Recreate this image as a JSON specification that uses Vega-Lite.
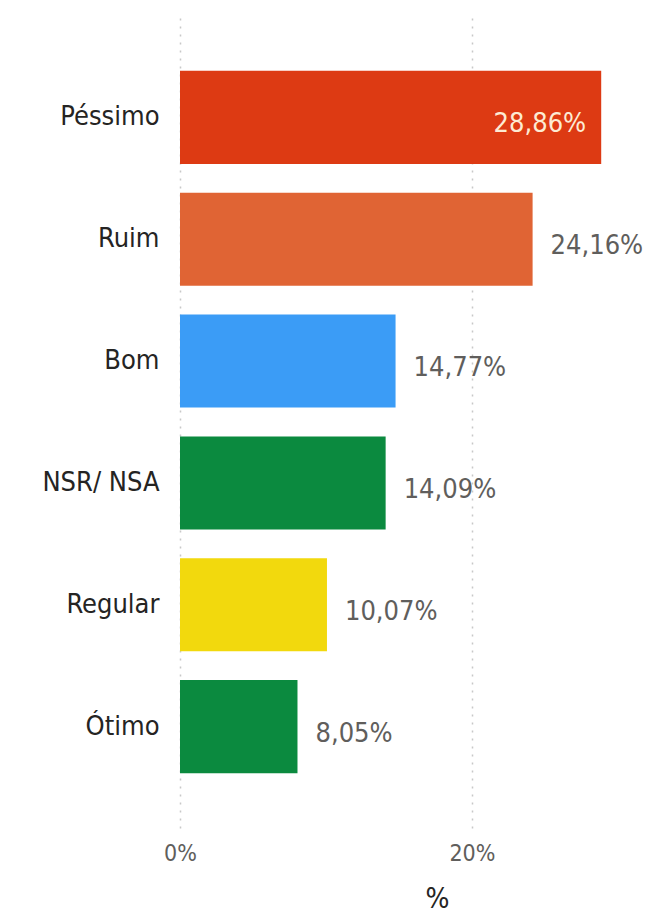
{
  "$schema": "https://vega.github.io/schema/vega-lite/v6.json",
  "autosize": "none",
  "width": 486,
  "height": 812,
  "padding": {"left": 180, "top": 16, "right": 0, "bottom": 90},
  "background": "white",
  "data": {
    "values": [
      {"categoria": "Péssimo", "valor": 28.86, "rotulo": "28,86%"},
      {"categoria": "Ruim", "valor": 24.16, "rotulo": "24,16%"},
      {"categoria": "Bom", "valor": 14.77, "rotulo": "14,77%"},
      {"categoria": "NSR/ NSA", "valor": 14.09, "rotulo": "14,09%"},
      {"categoria": "Regular", "valor": 10.07, "rotulo": "10,07%"},
      {"categoria": "Ótimo", "valor": 8.05, "rotulo": "8,05%"}
    ]
  },
  "encoding": {
    "y": {
      "field": "categoria",
      "type": "nominal",
      "sort": ["Péssimo", "Ruim", "Bom", "NSR/ NSA", "Regular", "Ótimo"],
      "scale": {"paddingInner": 0.236, "paddingOuter": 0.45},
      "axis": {
        "title": null,
        "domain": false,
        "ticks": false,
        "labelPadding": 21,
        "labelFontSize": 27,
        "labelColor": "#252423",
        "labelFont": "Liberation Sans Narrow, DejaVu Sans Condensed, sans-serif"
      }
    },
    "x": {
      "field": "valor",
      "type": "quantitative",
      "scale": {"domain": [0, 33.3], "nice": false},
      "axis": {
        "title": "%",
        "values": [0, 20],
        "labelExpr": "datum.value + '%'",
        "labelFlush": false,
        "domain": false,
        "ticks": false,
        "grid": true,
        "gridColor": "#c8c8c8",
        "gridDash": [2, 6],
        "gridWidth": 1.5,
        "labelPadding": 14,
        "labelFontSize": 23,
        "labelColor": "#605e5c",
        "labelFont": "Liberation Sans Narrow, DejaVu Sans Condensed, sans-serif",
        "titleFontSize": 28,
        "titleFontWeight": "normal",
        "titleColor": "#252423",
        "titleFont": "Liberation Sans Narrow, DejaVu Sans Condensed, sans-serif",
        "titlePadding": 20,
        "titleX": 257
      }
    }
  },
  "layer": [
    {
      "mark": {"type": "bar"},
      "encoding": {
        "color": {
          "field": "categoria",
          "type": "nominal",
          "legend": null,
          "scale": {
            "domain": ["Péssimo", "Ruim", "Bom", "NSR/ NSA", "Regular", "Ótimo"],
            "range": ["#dd3a13", "#e06434", "#3b9cf6", "#0b8a3f", "#f2d90d", "#0b8a3f"]
          }
        }
      }
    },
    {
      "transform": [{"filter": "datum.categoria != 'Péssimo'"}],
      "mark": {
        "type": "text",
        "align": "left",
        "baseline": "middle",
        "dx": 18,
        "dy": 7,
        "fontSize": 27,
        "color": "#605e5c",
        "font": "Liberation Sans Narrow, DejaVu Sans Condensed, sans-serif"
      },
      "encoding": {"text": {"field": "rotulo"}}
    },
    {
      "transform": [{"filter": "datum.categoria == 'Péssimo'"}],
      "mark": {
        "type": "text",
        "align": "right",
        "baseline": "middle",
        "dx": -15,
        "dy": 7,
        "fontSize": 27,
        "color": "#fdebd3",
        "font": "Liberation Sans Narrow, DejaVu Sans Condensed, sans-serif"
      },
      "encoding": {"text": {"field": "rotulo"}}
    }
  ],
  "config": {"view": {"stroke": null}}
}
